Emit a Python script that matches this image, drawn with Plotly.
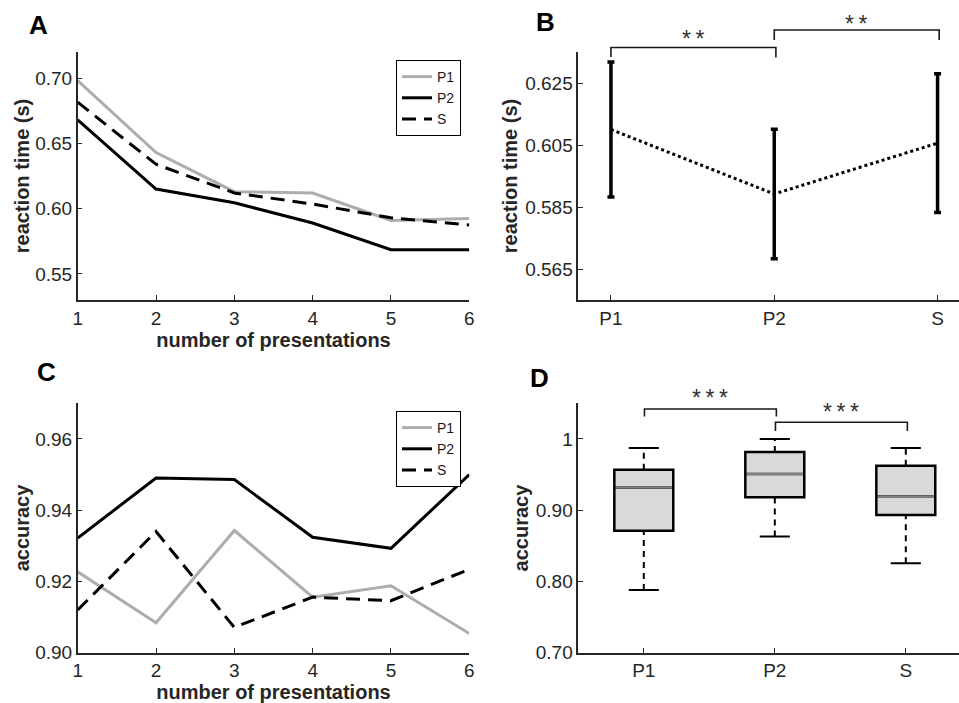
import plotly.graph_objects as go

# ---------------- data ----------------
presentations = [1, 2, 3, 4, 5, 6]
rt_p1 = [0.698, 0.643, 0.613, 0.612, 0.591, 0.5925]
rt_p2 = [0.668, 0.615, 0.6045, 0.589, 0.5685, 0.5685]
rt_s = [0.6815, 0.634, 0.612, 0.6035, 0.593, 0.5875]

conditions = ["P1", "P2", "S"]
cond_pos = [1, 2, 3]
rt_mean = [0.610, 0.5892, 0.6056]
rt_err = [0.0218, 0.0209, 0.0224]

acc_p1 = [0.9227, 0.9084, 0.9343, 0.9156, 0.9188, 0.9054]
acc_p2 = [0.9322, 0.9490, 0.9486, 0.9324, 0.9293, 0.9500]
acc_s = [0.9120, 0.9340, 0.9071, 0.9156, 0.9146, 0.9234]

box_lower = [0.788, 0.863, 0.8256]
box_q1 = [0.871, 0.918, 0.8931]
box_median = [0.932, 0.9508, 0.9194]
box_q3 = [0.9569, 0.9817, 0.9625]
box_upper = [0.9873, 1.000, 0.9873]

sig_b = [("P1", "P2", "**"), ("P2", "S", "**")]
sig_d = [("P1", "P2", "***"), ("P2", "S", "***")]

# ---------------- layout helpers ----------------
W, H = 959, 703
def px(x):
    return x / W
def py(y):
    return 1 - y / H

FONT = "Liberation Sans, Arial, sans-serif"
AX = "#262626"
GRAY = "#adadad"

fig = go.Figure()

# Panel A
fig.add_trace(go.Scatter(x=presentations, y=rt_p1, mode="lines", name="P1",
                         line=dict(color=GRAY, width=3), xaxis="x", yaxis="y", legend="legend"))
fig.add_trace(go.Scatter(x=presentations, y=rt_p2, mode="lines", name="P2",
                         line=dict(color="black", width=3), xaxis="x", yaxis="y", legend="legend"))
fig.add_trace(go.Scatter(x=presentations, y=rt_s, mode="lines", name="S",
                         line=dict(color="black", width=3, dash="14px,8px"), xaxis="x", yaxis="y", legend="legend"))

# Panel B
fig.add_trace(go.Scatter(x=cond_pos, y=rt_mean, mode="lines", showlegend=False,
                         line=dict(color="black", width=3, dash="dot"),
                         error_y=dict(type="data", array=rt_err, visible=True, color="black",
                                      thickness=3.5, width=3.5),
                         xaxis="x2", yaxis="y2"))

# Panel C
fig.add_trace(go.Scatter(x=presentations, y=acc_p1, mode="lines", name="P1",
                         line=dict(color=GRAY, width=3), xaxis="x3", yaxis="y3", legend="legend2"))
fig.add_trace(go.Scatter(x=presentations, y=acc_p2, mode="lines", name="P2",
                         line=dict(color="black", width=3), xaxis="x3", yaxis="y3", legend="legend2"))
fig.add_trace(go.Scatter(x=presentations, y=acc_s, mode="lines", name="S",
                         line=dict(color="black", width=3, dash="14px,8px"), xaxis="x3", yaxis="y3", legend="legend2"))

# Panel D: boxes
BOXW = 0.45
CAPW = 0.23
for i, c in enumerate(cond_pos):
    fig.add_trace(go.Scatter(x=[c, c], y=[box_q3[i], box_upper[i]], mode="lines", showlegend=False,
                             line=dict(color="black", width=2, dash="6px,5px"), xaxis="x4", yaxis="y4"))
    fig.add_trace(go.Scatter(x=[c, c], y=[box_lower[i], box_q1[i]], mode="lines", showlegend=False,
                             line=dict(color="black", width=2, dash="6px,5px"), xaxis="x4", yaxis="y4"))
    fig.add_trace(go.Scatter(x=[c - CAPW / 2, c + CAPW / 2], y=[box_upper[i], box_upper[i]], mode="lines",
                             showlegend=False, line=dict(color="black", width=2), xaxis="x4", yaxis="y4"))
    fig.add_trace(go.Scatter(x=[c - CAPW / 2, c + CAPW / 2], y=[box_lower[i], box_lower[i]], mode="lines",
                             showlegend=False, line=dict(color="black", width=2), xaxis="x4", yaxis="y4"))

fig.add_trace(go.Box(x=cond_pos, q1=box_q1, median=box_median, q3=box_q3,
                     lowerfence=box_q1, upperfence=box_q3, width=BOXW,
                     fillcolor="#d9d9d9", line=dict(color="black", width=2.5),
                     showlegend=False, hoverinfo="skip", xaxis="x4", yaxis="y4"))
for i, c in enumerate(cond_pos):
    fig.add_trace(go.Scatter(x=[c - BOXW / 2 + 0.01, c + BOXW / 2 - 0.01], y=[box_median[i], box_median[i]],
                             mode="lines", showlegend=False, line=dict(color="#828282", width=2.2),
                             xaxis="x4", yaxis="y4"))

# ---------------- axes ----------------
common = dict(showline=True, linecolor=AX, linewidth=1.5, ticks="inside", ticklen=5, tickwidth=1.2,
              tickcolor=AX, showgrid=False, zeroline=False, mirror=False,
              tickfont=dict(family=FONT, size=19, color=AX), automargin=False)
title_font = dict(family=FONT, size=20, color=AX)

xA = [px(77.7), px(469.3)]
xB = [px(578.3), 1.0]
yTop = [py(300), py(52)]
yBot = [py(652.7), py(403.3)]

fig.update_layout(
    xaxis=dict(domain=xA, range=[1, 6], tickvals=presentations, anchor="y",
               title=dict(text="<b>number of presentations</b>", font=title_font, standoff=4), **common),
    yaxis=dict(domain=yTop, range=[0.53, 0.72], tickvals=[0.55, 0.60, 0.65, 0.70], tickformat=".2f",
               anchor="x", title=dict(text="<b>reaction time (s)</b>", font=title_font, standoff=0), **common),
    xaxis2=dict(domain=xB, range=[0.8, 0.8 + (959 - 578.3) / 163.3], tickvals=cond_pos, ticktext=conditions,
                anchor="y2", **common),
    yaxis2=dict(domain=yTop, range=[0.555, 0.635], tickvals=[0.565, 0.585, 0.605, 0.625], tickformat=".3f",
                anchor="x2", title=dict(text="<b>reaction time (s)</b>", font=title_font, standoff=2), **common),
    xaxis3=dict(domain=xA, range=[1, 6], tickvals=presentations, anchor="y3",
                title=dict(text="<b>number of presentations</b>", font=title_font, standoff=4), **common),
    yaxis3=dict(domain=yBot, range=[0.90, 0.97], tickvals=[0.90, 0.92, 0.94, 0.96], tickformat=".2f",
                anchor="x3", title=dict(text="<b>accuracy</b>", font=title_font, standoff=0), **common),
    xaxis4=dict(domain=xB, range=[0.5, 0.5 + (959 - 578.3) / 131.0], tickvals=cond_pos, ticktext=conditions,
                anchor="y4", **common),
    yaxis4=dict(domain=yBot, range=[0.70, 1.05], tickvals=[0.70, 0.80, 0.90, 1.0],
                ticktext=["0.70", "0.80", "0.90", "1"], anchor="x4",
                title=dict(text="<b>accuracy</b>", font=title_font, standoff=2), **common),
)

leg_common = dict(bordercolor="black", borderwidth=1, bgcolor="white", font=dict(family=FONT, size=14, color="#1a1a1a"),
                  xanchor="right", yanchor="top", itemwidth=30, tracegroupgap=0)
fig.update_layout(
    legend=dict(x=px(461), y=py(60), **leg_common),
    legend2=dict(x=px(461), y=py(411), **leg_common),
)

# ---------------- significance brackets ----------------
def add_brackets(sigs, xref, y_lines, y_legs, y_text, xoff):
    for (a, b, label), yl, (lega, legb), yt in zip(sigs, y_lines, y_legs, y_text):
        xa = cond_pos[conditions.index(a)] + xoff[0]
        xb = cond_pos[conditions.index(b)] + xoff[1]
        fig.add_shape(type="path", xref=xref, yref="paper",
                      path=f"M {xa},{py(lega)} L {xa},{py(yl)} L {xb},{py(yl)} L {xb},{py(legb)}",
                      line=dict(color="#1a1a1a", width=1.6))
        fig.add_annotation(x=(xa + xb) / 2, y=py(yt), xref=xref, yref="paper", text="\u2009".join(label),
                           showarrow=False, font=dict(family=FONT, size=23, color="#333333"),
                           xanchor="center", yanchor="middle")

add_brackets(sig_b, "x2", [47.5, 30], [(57, 57.5), (40, 40)], [39, 24], (0.0, 0.01))
add_brackets(sig_d, "x4", [409, 422.3], [(416.5, 416.5), (431, 431)], [398, 412], (0.005, 0.012))

# panel letters
for letter, (lx, ly) in zip(["A", "B", "C", "D"], [(38, 25), (545.7, 22), (46.7, 372), (539.3, 378.3)]):
    fig.add_annotation(x=px(lx), y=py(ly), xref="paper", yref="paper", text=f"<b>{letter}</b>",
                       showarrow=False, font=dict(family=FONT, size=26, color="black"),
                       xanchor="center", yanchor="middle")

fig.update_layout(width=W, height=H, margin=dict(l=0, r=0, t=0, b=0),
                  plot_bgcolor="white", paper_bgcolor="white", showlegend=True)

fig.write_html("out.html")
